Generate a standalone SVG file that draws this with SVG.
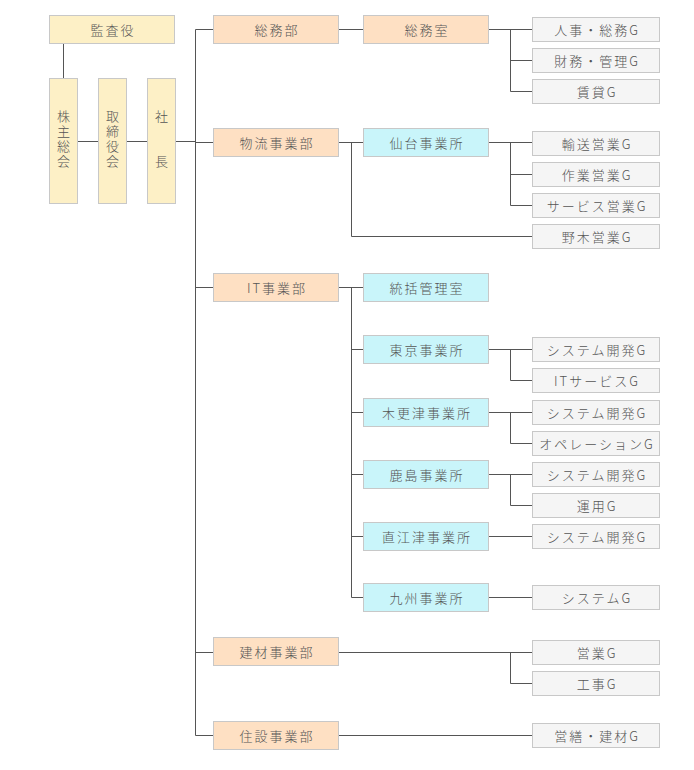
<svg xmlns="http://www.w3.org/2000/svg" width="694" height="770" viewBox="0 0 694 770">
<style>
rect{stroke:#c8c8c8;stroke-width:1}
.y{fill:#fdf0c6}
.p{fill:#fee0c3}
.c{fill:#c9f5fa}
.g{fill:#f5f5f5}
text{font-family:"Noto Sans CJK JP","Noto Sans",sans-serif;font-size:13px;font-weight:300;fill:#555;text-anchor:middle;dominant-baseline:central;letter-spacing:2px}
.v{writing-mode:vertical-rl;text-anchor:start}
#connectors path{fill:none;stroke:#555;stroke-width:1}
</style>
<rect width="694" height="770" fill="#fff" style="stroke:none"/>
<g id="connectors">
<path d="M63.5,43.5V78.5M77.5,141.5H98.5M126.5,141.5H147.5M175.5,141.5H195.5"/>
<path d="M195.5,29.5V735.5H213.5M195.5,29.5H213.5M195.5,142.5H213.5M195.5,287.5H213.5M195.5,652.5H213.5"/>
<path d="M338.5,29.5H363.5M488.5,29.5H532.5M510.5,29.5V91.5H532.5M510.5,60.5H532.5"/>
<path d="M338.5,142.5H363.5M351.5,142.5V236.5H532.5M488.5,142.5H532.5M510.5,142.5V205.5H532.5M510.5,174.5H532.5"/>
<path d="M338.5,287.5H363.5M351.5,287.5V597.5H363.5M351.5,349.5H363.5M351.5,412.5H363.5M351.5,474.5H363.5M351.5,536.5H363.5"/>
<path d="M488.5,349.5H532.5M510.5,349.5V380.5H532.5M488.5,412.5H532.5M510.5,412.5V443.5H532.5M488.5,474.5H532.5M510.5,474.5V505.5H532.5M488.5,536.5H532.5M488.5,597.5H532.5"/>
<path d="M338.5,652.5H532.5M510.5,652.5V683.5H532.5M338.5,735.5H532.5"/>
</g>
<g id="kansayaku"><rect class="y" x="49.5" y="15.5" width="125" height="28"/><text x="113" y="29.5">監査役</text></g>
<g id="kabunushi"><rect class="y" x="49.5" y="78.5" width="28" height="125"/><text class="v" x="63.5" y="110">株主総会</text></g>
<g id="torishimariyaku"><rect class="y" x="98.5" y="78.5" width="28" height="125"/><text class="v" x="112.5" y="110">取締役会</text></g>
<g id="shacho"><rect class="y" x="147.5" y="78.5" width="28" height="125"/><text class="v" x="161.5" y="110" style="letter-spacing:32px">社長</text></g>

<g id="somubu"><rect class="p" x="213.5" y="15.5" width="125" height="28"/><text x="277" y="29.5">総務部</text></g>
<g id="butsuryu"><rect class="p" x="213.5" y="128.5" width="125" height="28"/><text x="277" y="142.5">物流事業部</text></g>
<g id="it"><rect class="p" x="213.5" y="273.5" width="125" height="28"/><text x="277" y="287.5">IT事業部</text></g>
<g id="kenzai"><rect class="p" x="213.5" y="637.5" width="125" height="28"/><text x="277" y="651.5">建材事業部</text></g>
<g id="jusetsu"><rect class="p" x="213.5" y="721.5" width="125" height="28"/><text x="277" y="735.5">住設事業部</text></g>

<g id="somushitsu"><rect class="p" x="363.5" y="15.5" width="125" height="28"/><text x="427" y="29.5">総務室</text></g>
<g id="sendai"><rect class="c" x="363.5" y="128.5" width="125" height="28"/><text x="427" y="142.5">仙台事業所</text></g>
<g id="tokatsu"><rect class="c" x="363.5" y="273.5" width="125" height="28"/><text x="427" y="287.5">統括管理室</text></g>
<g id="tokyo"><rect class="c" x="363.5" y="335.5" width="125" height="28"/><text x="427" y="349.5">東京事業所</text></g>
<g id="kisarazu"><rect class="c" x="363.5" y="398.5" width="125" height="28"/><text x="427" y="412.5">木更津事業所</text></g>
<g id="kashima"><rect class="c" x="363.5" y="460.5" width="125" height="28"/><text x="427" y="474.5">鹿島事業所</text></g>
<g id="naoetsu"><rect class="c" x="363.5" y="522.5" width="125" height="28"/><text x="427" y="536.5">直江津事業所</text></g>
<g id="kyushu"><rect class="c" x="363.5" y="583.5" width="125" height="28"/><text x="427" y="597.5">九州事業所</text></g>

<g id="g1"><rect class="g" x="532.5" y="17.5" width="127" height="24"/><text x="597" y="29.5">人事・総務G</text></g>
<g id="g2"><rect class="g" x="532.5" y="48.5" width="127" height="24"/><text x="597" y="60.5">財務・管理G</text></g>
<g id="g3"><rect class="g" x="532.5" y="79.5" width="127" height="24"/><text x="597" y="91.5">賃貸G</text></g>
<g id="g4"><rect class="g" x="532.5" y="131.5" width="127" height="24"/><text x="597" y="143.5">輸送営業G</text></g>
<g id="g5"><rect class="g" x="532.5" y="162.5" width="127" height="24"/><text x="597" y="174.5">作業営業G</text></g>
<g id="g6"><rect class="g" x="532.5" y="193.5" width="127" height="24"/><text x="597" y="205.5">サービス営業G</text></g>
<g id="g7"><rect class="g" x="532.5" y="224.5" width="127" height="24"/><text x="597" y="236.5">野木営業G</text></g>
<g id="g8"><rect class="g" x="532.5" y="337.5" width="127" height="24"/><text x="597" y="349.5">システム開発G</text></g>
<g id="g9"><rect class="g" x="532.5" y="368.5" width="127" height="24"/><text x="597" y="380.5">ITサービスG</text></g>
<g id="g10"><rect class="g" x="532.5" y="400.5" width="127" height="24"/><text x="597" y="412.5">システム開発G</text></g>
<g id="g11"><rect class="g" x="532.5" y="431.5" width="127" height="24"/><text x="597" y="443.5">オペレーションG</text></g>
<g id="g12"><rect class="g" x="532.5" y="462.5" width="127" height="24"/><text x="597" y="474.5">システム開発G</text></g>
<g id="g13"><rect class="g" x="532.5" y="493.5" width="127" height="24"/><text x="597" y="505.5">運用G</text></g>
<g id="g14"><rect class="g" x="532.5" y="524.5" width="127" height="24"/><text x="597" y="536.5">システム開発G</text></g>
<g id="g15"><rect class="g" x="532.5" y="585.5" width="127" height="24"/><text x="597" y="597.5">システムG</text></g>
<g id="g16"><rect class="g" x="532.5" y="640.5" width="127" height="24"/><text x="597" y="652.5">営業G</text></g>
<g id="g17"><rect class="g" x="532.5" y="671.5" width="127" height="24"/><text x="597" y="683.5">工事G</text></g>
<g id="g18"><rect class="g" x="532.5" y="723.5" width="127" height="24"/><text x="597" y="735.5">営繕・建材G</text></g>
</svg>
